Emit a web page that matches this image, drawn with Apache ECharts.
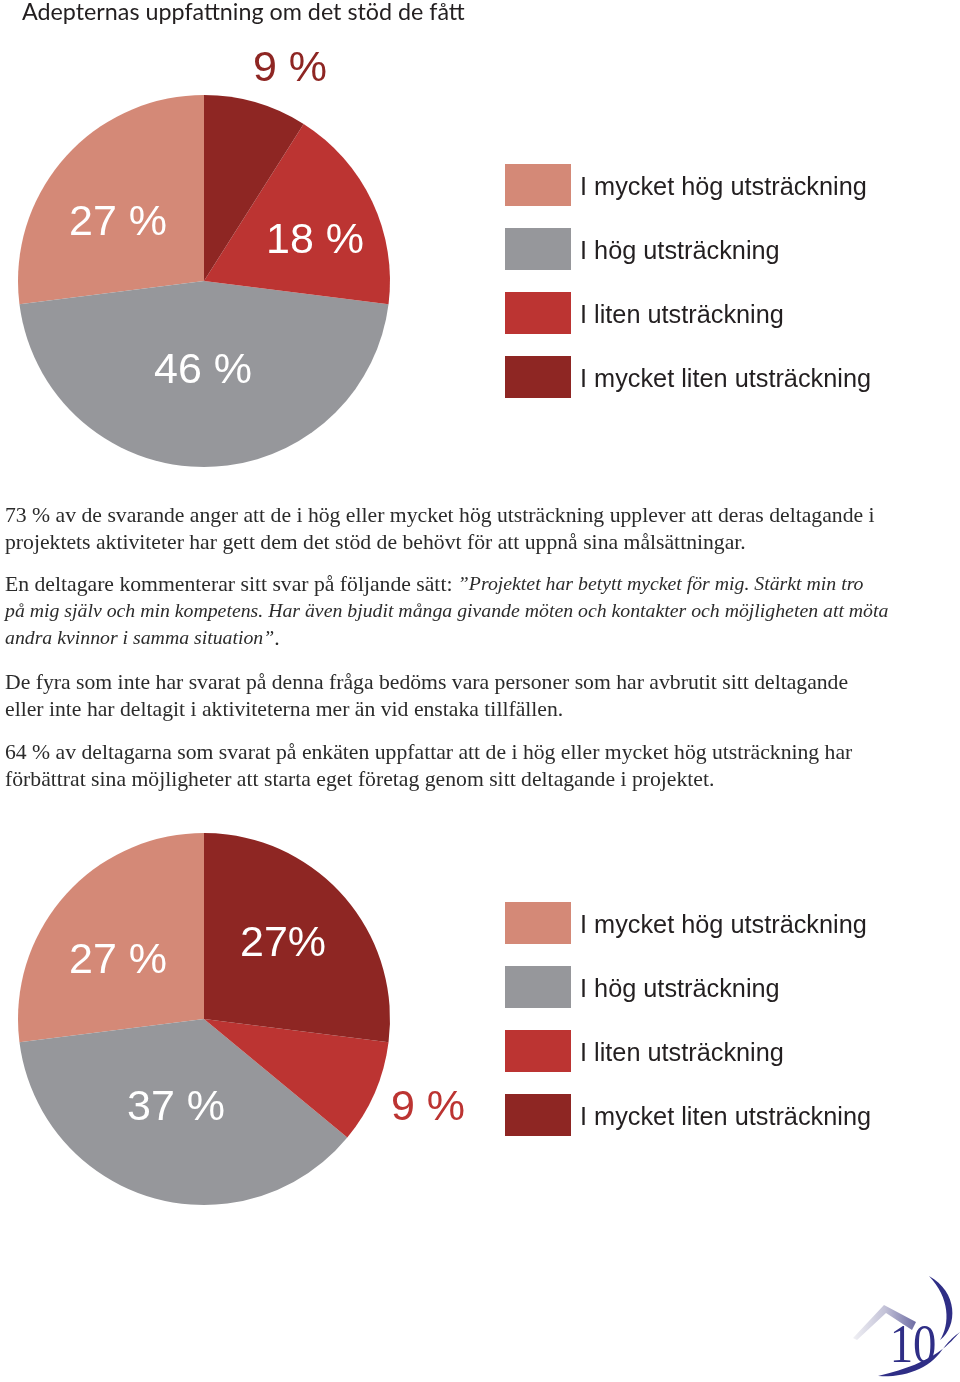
<!DOCTYPE html>
<html>
<head>
<meta charset="utf-8">
<script src="https://cdn.jsdelivr.net/npm/echarts@6/dist/echarts.min.js"></script>
<style>
html,body{margin:0;padding:0;background:#fff;}
#chart{width:960px;height:1382px;}
</style>
</head>
<body>
<div id="chart"></div>
<script>
// ---- data ----
const categories = ['I mycket hög utsträckning', 'I hög utsträckning', 'I liten utsträckning', 'I mycket liten utsträckning'];
const pie1Values = [27, 46, 18, 9];
const pie2Values = [27, 37, 9, 27];
const pie1Labels = ['27 %', '46 %', '18 %', '9 %'];
const pie2Labels = ['27 %', '37 %', '9 %', '27%'];
const title = 'Adepternas uppfattning om det stöd de fått';

// ---- style ----
const colors = ['#d48977', '#96979b', '#bc3432', '#8e2623'];
const labelInside = [[true, true, true, false], [true, true, false, true]];
const labelPos = [
  [[118, 222], [203, 370], [315, 240], [290, 68]],
  [[118, 960], [176, 1107], [428, 1107], [283, 943]]
];
const textColor = '#231f20';
const bodyColor = '#2b2b2b';
const serif = 'Liberation Serif';

function pieData(values, labels, si) {
  return categories.map((c, i) => ({
    name: c,
    value: values[i],
    itemStyle: { color: colors[i] },
    label: { formatter: labels[i], color: labelInside[si][i] ? '#ffffff' : colors[i] }
  }));
}

function pieSeries(values, labels, si, cy) {
  return {
    type: 'pie',
    center: [204, cy],
    radius: 186,
    startAngle: 90,
    clockwise: false,
    silent: true,
    animation: false,
    itemStyle: { borderWidth: 0 },
    emphasis: { disabled: true },
    label: {
      show: true,
      position: 'inside',
      fontFamily: 'Liberation Sans',
      fontSize: 43,
      fontWeight: 'normal'
    },
    labelLine: { show: false },
    labelLayout: function (p) {
      const pos = labelPos[si][p.dataIndex];
      return { x: pos[0], y: pos[1] + 1, align: 'center', verticalAlign: 'middle' };
    },
    data: pieData(values, labels, si)
  };
}

function legendAt(top) {
  return {
    orient: 'vertical',
    left: 505,
    top: top,
    padding: 0,
    icon: 'rect',
    itemWidth: 66,
    itemHeight: 42,
    itemGap: 22,
    selectedMode: false,
    data: categories,
    formatter: function (name) { return '{a|' + name + '}'; },
    textStyle: {
      fontFamily: 'Liberation Sans', fontSize: 25.3, color: textColor,
      rich: { a: { fontFamily: 'Liberation Sans', fontSize: 25.3, color: textColor, padding: [7, 0, 0, 4] } }
    }
  };
}

const bodyFont = '21.7px "' + serif + '"';
const italicFont = 'italic 19.8px "' + serif + '"';
function line(text, y) {
  return { type: 'text', x: 5, y: y, style: { text: text, font: bodyFont, fill: bodyColor, verticalAlign: 'middle' } };
}
function richLine(text, y) {
  return {
    type: 'text', x: 5, y: y,
    style: {
      text: text, font: bodyFont, fill: bodyColor, verticalAlign: 'middle',
      rich: {
        n: { font: bodyFont, fill: bodyColor },
        i: { font: italicFont, fill: bodyColor }
      }
    }
  };
}

// sample a closed shape made of cubic bezier segments into polygon points
function bezierShape(segs) {
  const pts = [];
  segs.forEach(s => {
    for (let k = 0; k <= 16; k++) {
      const t = k / 16, u = 1 - t;
      pts.push([
        u*u*u*s[0][0] + 3*u*u*t*s[1][0] + 3*u*t*t*s[2][0] + t*t*t*s[3][0],
        u*u*u*s[0][1] + 3*u*u*t*s[1][1] + 3*u*t*t*s[2][1] + t*t*t*s[3][1]
      ]);
    }
  });
  return pts;
}

const logoBlue = '#2f2e86';
const graphics = [
  { type: 'text', x: 22, y: 12, style: { text: title, font: '23.3px Lato', fill: textColor, verticalAlign: 'middle' } },
  line('73 % av de svarande anger att de i hög eller mycket hög utsträckning upplever att deras deltagande i', 516),
  line('projektets aktiviteter har gett dem det stöd de behövt för att uppnå sina målsättningar.', 543),
  richLine('{n|En deltagare kommenterar sitt svar på följande sätt: }{i|”Projektet har betytt mycket för mig. Stärkt min tro}', 585),
  richLine('{i|på mig själv och min kompetens. Har även bjudit många givande möten och kontakter och möjligheten att möta}', 612),
  richLine('{i|andra kvinnor i samma situation”}{n|.}', 639),
  line('De fyra som inte har svarat på denna fråga bedöms vara personer som har avbrutit sitt deltagande', 683),
  line('eller inte har deltagit i aktiviteterna mer än vid enstaka tillfällen.', 710),
  line('64 % av deltagarna som svarat på enkäten uppfattar att de i hög eller mycket hög utsträckning har', 753),
  line('förbättrat sina möjligheter att starta eget företag genom sitt deltagande i projektet.', 780),
  // page logo
  {
    type: 'polygon', silent: true,
    shape: { points: [[853, 1338], [884, 1305], [916, 1322], [912, 1330], [886, 1313], [857, 1340]] },
    style: {
      fill: new echarts.graphic.LinearGradient(0, 0, 1, 0, [
        { offset: 0, color: '#f0f0f4' }, { offset: 0.5, color: '#c4c3d8' }, { offset: 1, color: '#6d6ca3' }
      ])
    }
  },
  {
    type: 'polygon', silent: true,
    shape: { points: bezierShape([
      [[929, 1276], [958, 1292], [958, 1326], [940, 1340]],
      [[940, 1340], [950, 1324], [950, 1298], [929, 1276]]
    ]) },
    style: { fill: logoBlue }
  },
  {
    type: 'polygon', silent: true,
    shape: { points: bezierShape([
      [[878, 1376], [905, 1378], [930, 1368], [942, 1350]],
      [[942, 1350], [948, 1342], [953, 1337], [960, 1332]],
      [[960, 1332], [950, 1342], [938, 1362], [878, 1376]]
    ]) },
    style: { fill: logoBlue }
  },
  {
    type: 'text', silent: true, x: 913, y: 1348, scaleX: 0.85,
    style: { text: '10', font: '55px "Liberation Serif"', fill: logoBlue, align: 'center', verticalAlign: 'middle' }
  }
];

const chart = echarts.init(document.getElementById('chart'), null, { renderer: 'canvas' });
chart.setOption({
  animation: false,
  backgroundColor: '#ffffff',
  legend: [legendAt(164), legendAt(902)],
  graphic: graphics,
  series: [
    pieSeries(pie1Values, pie1Labels, 0, 281),
    pieSeries(pie2Values, pie2Labels, 1, 1019)
  ]
});
</script>
</body>
</html>
